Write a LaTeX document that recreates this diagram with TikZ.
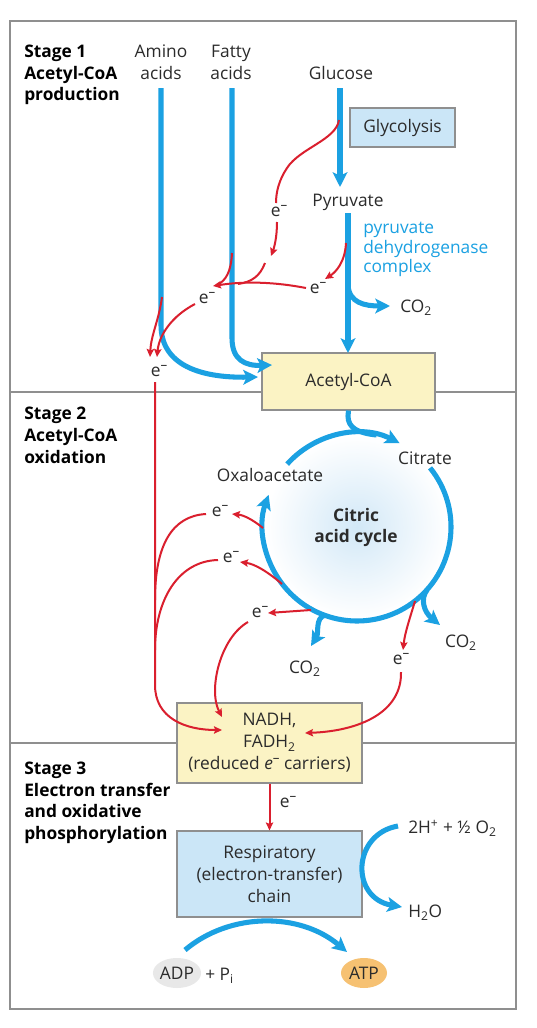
\documentclass[tikz,border=0pt]{standalone}
\usepackage{fontspec}
\setmainfont{Open Sans}
\usetikzlibrary{arrows.meta,shapes.geometric}
\definecolor{cblue}{HTML}{1BA1E2}
\definecolor{cred}{HTML}{DA1F2E}
\definecolor{boxblue}{HTML}{CBE6F7}
\definecolor{boxyel}{HTML}{FBF3C4}
\definecolor{fgray}{HTML}{8F8F8F}
\definecolor{txt}{HTML}{2B2B2B}
\definecolor{atpc}{HTML}{F6C172}
\definecolor{adpc}{HTML}{E8E8E8}
\definecolor{circblue}{HTML}{D2E8F7}
\tikzset{
 lbl/.style={anchor=base, inner sep=0pt, text=txt, font=\fontsize{13}{15}\selectfont},
 pdc/.style={anchor=base west, inner sep=0pt, text=cblue, font=\fontsize{13}{15}\selectfont},
 stg/.style={anchor=base west, inner sep=0pt, text=black, font=\fontsize{13}{15}\selectfont\bfseries},
 elab/.style={inner sep=0pt, text=txt, font=\fontsize{13}{15}\selectfont},
 barrow/.style={draw=cblue, line width=3.8pt, -{Stealth[length=11pt,width=11pt,inset=2.5pt]}},
 bline/.style={draw=cblue, line width=3.8pt},
 rarrow/.style={draw=cred, line width=1.5pt, -{Stealth[length=6pt,width=5.5pt,inset=1pt]}},
 rline/.style={draw=cred, line width=1.5pt},
 boxb/.style={draw=fgray, line width=0.8pt, fill=boxblue, inner sep=0pt, align=center, text=txt, font=\fontsize{13}{16.5}\selectfont},
 boxy/.style={draw=fgray, line width=0.8pt, fill=boxyel, inner sep=0pt, align=center, text=txt, font=\fontsize{13}{16.5}\selectfont},
 pill/.style={ellipse, inner sep=0pt, minimum width=34.5pt, minimum height=22.5pt, text=txt, font=\fontsize{13}{15}\selectfont},
}
\newcommand\elc{e\raisebox{0.8ex}{\fontsize{10}{10}\selectfont –}}
\begin{document}
\begin{tikzpicture}[x=0.75pt,y=-0.75pt]
\useasboundingbox (0,0) rectangle (536,1028);
\fill[white] (0,0) rectangle (536,1028);
\draw[fgray, line width=0.9pt] (10,21) rectangle (516,1009);
\draw[fgray, line width=0.9pt] (10,392) -- (516,392);
\draw[fgray, line width=0.9pt] (10,743) -- (516,743);
% stage labels
\node[stg] (s1a) at (24,57) {Stage 1};
\node[stg] (s1b) at (24,79) {Acetyl-CoA};
\node[stg] (s1c) at (24,100) {production};
\node[stg] (s2a) at (24,419) {Stage 2};
\node[stg] (s2b) at (24,441) {Acetyl-CoA};
\node[stg] (s2c) at (24,463) {oxidation};
\node[stg] (s3a) at (24,774) {Stage 3};
\node[stg] (s3b) at (24,796) {Electron transfer};
\node[stg] (s3c) at (24,817) {and oxidative};
\node[stg] (s3d) at (24,839) {phosphorylation};
% top labels
\node[lbl] (amA) at (161,57) {Amino};
\node[lbl] (amB) at (161,79) {acids};
\node[lbl] (faA) at (231,57) {Fatty};
\node[lbl] (faB) at (231,79) {acids};
\node[lbl] (glu) at (341,79) {Glucose};
\node[boxb, minimum width=78.75pt, minimum height=29.25pt] (glyco) at (402.5,127.5) {Glycolysis};
\node[lbl] (pyr) at (348,206) {Pyruvate};
\node[pdc] (pdc1) at (363,233) {pyruvate};
\node[pdc] (pdc2) at (363,253) {dehydrogenase};
\node[pdc] (pdc3) at (363,272) {complex};
\node[lbl, anchor=base west] (co2a) at (400,312) {CO\textsubscript{2}};
% cycle
\coordinate (C) at (357,527);
\shade[inner color=circblue, outer color=white] (C) circle (92);
\node[lbl, anchor=center, align=center, font=\fontsize{13}{15.75}\selectfont\bfseries] (cac) at (356,527) {Citric\\acid cycle};
\node[lbl] (cit) at (425,464) {Citrate};
\node[lbl] (oxa) at (270,481) {Oxaloacetate};
\node[lbl] (co2b) at (305,673) {CO\textsubscript{2}};
\node[lbl] (co2c) at (461,647) {CO\textsubscript{2}};
% boxes
\node[boxy, minimum width=129.75pt, minimum height=42.75pt] (acoa) at (348.5,381.5) {Acetyl-CoA};
\node[boxy, minimum width=138.75pt, minimum height=60pt] (nadh) at (269.5,743) {NADH,\\FADH\textsubscript{2}\\(reduced \textit{e}\raisebox{0.8ex}{\fontsize{10}{10}\selectfont –} carriers)};
\node[boxb, minimum width=138.75pt, minimum height=64.5pt] (resp) at (269.5,874) {Respiratory\\(electron-transfer)\\chain};
\node[lbl, anchor=base west] (o2) at (408,833) {2H\textsuperscript{+} + ½ O\textsubscript{2}};
\node[lbl, anchor=base west] (h2o) at (408,917) {H\textsubscript{2}O};
\node[pill, fill=adpc] (adp) at (177,973) {ADP};
\node[lbl, anchor=base west] (pi) at (205,980) {+ P\textsubscript{i}};
\node[pill, fill=atpc] (atp) at (364,973) {ATP};
% e- labels
\node[elab] (e1) at (279,211) {\elc};
\node[elab] (e2) at (318,288) {\elc};
\node[elab] (e3) at (207,298) {\elc};
\node[elab] (e4) at (159,371) {\elc};
\node[elab] (e5) at (220,511) {\elc};
\node[elab] (e6) at (231,557) {\elc};
\node[elab] (e7) at (260,612) {\elc};
\node[elab] (e8) at (401,659) {\elc};
\node[elab] (e9) at (288,802) {\elc};
% blue arrows stage 1
\coordinate (amT) at (161,88);
\coordinate (faT) at (232,88);
\coordinate (guT) at (340,88);
\coordinate (pyB) at (348,213);
\draw[barrow] (amT) -- (161,325) .. controls (161,365) and (200,378) .. (258,377);
\draw[barrow] (faT) -- (232,338) .. controls (232,360) and (245,366) .. (272,365);
\draw[barrow] (guT) -- (340,187);
\draw[barrow] (pyB) -- (348,353);
\draw[barrow] (348,285) .. controls (349,303) and (365,306) .. (390,306);
% cycle arcs
\draw[bline] (acoa.south) -- (348,416) .. controls (348,428) and (358,433) .. (376.5,435);
\draw[barrow] (C) ++(-138:94) arc[start angle=-138,end angle=-63,radius=94];
\draw[barrow] (C) ++(-39:94) arc[start angle=-39,end angle=200,radius=94];
\draw[barrow] (427,590) .. controls (420,599) and (424,612) .. (440,625);
\draw[barrow] (325,615) .. controls (315,618) and (319,633) .. (311,646);
% red stage 1
\draw[rline] (339,120) .. controls (336,140) and (300,148) .. (287,168) .. controls (279,180) and (276,192) .. (276,203);
\draw[rarrow] (277,222) .. controls (277,238) and (274,248) .. (271,256);
\draw[rline] (265,263) .. controls (260,276) and (252,282) .. (238,284);
\draw[rline] (232,253) .. controls (231,272) and (226,281) .. (216,285.5);
\draw[rarrow] (306,288) .. controls (275,282) and (245,281) .. (213,286);
\draw[rarrow] (346,243) .. controls (345,262) and (336,272) .. (325,279);
\draw[rarrow] (195,304) .. controls (172,316) and (159,335) .. (157,357);
\draw[rarrow] (162,297) .. controls (159,320) and (151,335) .. (150,357);
% red stage 2
\draw[rarrow] (155,382) -- (155,685) .. controls (155,718) and (185,730) .. (222,730);
\draw[rline] (206,514) .. controls (172,516) and (155,545) .. (155,600);
\draw[rline] (218,560) .. controls (178,561) and (155,600) .. (155,650);
\draw[rarrow] (248,622) .. controls (220,638) and (208,690) .. (222,717);
\draw[rarrow] (401,672) .. controls (402,712) and (360,731) .. (305,733);
\draw[rarrow] (263,528) .. controls (252,519) and (243,515) .. (232,514);
\draw[rarrow] (282,584) .. controls (268,572) and (255,564) .. (240,562);
\draw[rarrow] (311,610) -- (268,613);
\draw[rarrow] (415,601) .. controls (410,618) and (405,632) .. (403,650);
% stage 3
\draw[rarrow] (nadh.south) -- (resp.north);
\draw[barrow] (398,826) .. controls (352,834) and (350,898) .. (402,907);
\draw[barrow] (185,950) .. controls (230,912) and (300,912) .. (347,952);
\end{tikzpicture}
\end{document}
